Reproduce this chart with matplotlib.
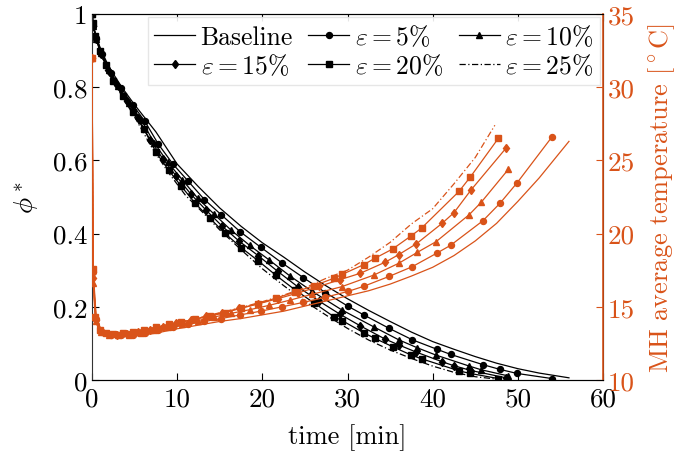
import matplotlib
matplotlib.use('Agg')
from matplotlib import pyplot as plt

plt.rcParams['font.family'] = 'serif'
plt.rcParams['font.serif'] = ['cmr10']
plt.rcParams['mathtext.fontset'] = 'cm'
plt.rcParams['axes.formatter.use_mathtext'] = True

orange = '#D95319'

# baseline (no marks)
t_base = [0, 0.1, 0.4, 1, 2, 3.5, 5, 7.5, 10, 12.5, 15, 17.5, 20, 22.5, 25, 27.5,
          30, 32.5, 35, 37.5, 40, 42.5, 45, 47.5, 50, 52.5, 56]
phi_base = [1.0, 0.978, 0.945, 0.905, 0.855, 0.80, 0.752, 0.678, 0.59, 0.528, 0.47, 0.42,
            0.375, 0.336, 0.295, 0.257, 0.222, 0.19, 0.16, 0.131, 0.105, 0.084, 0.064,
            0.046, 0.031, 0.019, 0.006]
T_base = [32, 17.0, 14.0, 13.2, 13.0, 12.95, 13.0, 13.2, 13.5, 13.75, 14.0, 14.2, 14.45,
          14.7, 15.05, 15.4, 15.75, 16.1, 16.55, 17.1, 17.7, 18.5, 19.5, 20.7, 22.2, 23.8, 26.3]

# eps = 5%
t_5 = [0, 0.15, 0.5, 1.2, 2.2, 3.4, 4.8, 6.2, 7.8, 9.5, 11.3, 13.2, 15.2, 17.4, 19.8, 22.3,
       24.8, 27.4, 30.1, 31.9, 34.9, 37.6, 40.5, 42.1, 45.9, 47.9, 49.9, 54.0]
phi_5 = [1.0, 0.968, 0.935, 0.89, 0.84, 0.798, 0.751, 0.707, 0.644, 0.59, 0.543, 0.493, 0.451,
         0.405, 0.363, 0.32, 0.28, 0.239, 0.201, 0.178, 0.141, 0.11, 0.084, 0.07, 0.042,
         0.029, 0.018, 0.004]
T_5 = [32, 17.4, 14.2, 13.3, 13.1, 13.05, 13.1, 13.2, 13.4, 13.6, 13.8, 14.0, 14.2, 14.45,
       14.7, 15.0, 15.3, 15.65, 16.06, 16.4, 17.08, 17.74, 18.67, 19.2, 20.88, 22.07, 23.46, 26.6]

# eps = 10%
t_10 = [0, 0.15, 0.5, 1.1, 2.0, 3.1, 4.4, 5.8, 7.3, 8.9, 10.6, 12.4, 14.3, 16.3, 18.5, 20.8,
        23.2, 25.8, 29.3, 33.1, 36.0, 38.2, 40.4, 44.3, 45.7, 48.9]
phi_10 = [1.0, 0.967, 0.932, 0.893, 0.847, 0.802, 0.756, 0.71, 0.648, 0.595, 0.547, 0.497,
          0.454, 0.41, 0.368, 0.328, 0.285, 0.243, 0.192, 0.145, 0.11, 0.088, 0.068, 0.038,
          0.028, 0.011]
T_10 = [32, 16.6, 14.0, 13.3, 13.1, 13.05, 13.1, 13.2, 13.4, 13.6, 13.85, 14.05, 14.3, 14.55,
        14.8, 15.1, 15.45, 15.85, 16.37, 17.17, 17.97, 18.72, 19.45, 21.3, 22.14, 24.4]

# eps = 15%
t_15 = [0, 0.15, 0.5, 1.1, 1.9, 2.9, 4.1, 5.4, 6.8, 8.3, 9.9, 11.6, 13.4, 15.3, 17.3, 19.5,
        21.8, 24.2, 26.7, 29.1, 31.5, 34.4, 36.0, 38.1, 41.1, 42.5, 44.5, 48.6]
phi_15 = [1.0, 0.966, 0.931, 0.89, 0.848, 0.806, 0.762, 0.717, 0.657, 0.605, 0.557, 0.508,
          0.464, 0.42, 0.379, 0.34, 0.297, 0.254, 0.215, 0.18, 0.148, 0.112, 0.096, 0.076,
          0.05, 0.039, 0.026, 0.006]
T_15 = [32, 17.0, 14.1, 13.35, 13.15, 13.1, 13.15, 13.25, 13.45, 13.65, 13.9, 14.1, 14.35,
        14.6, 14.9, 15.2, 15.55, 15.95, 16.4, 16.85, 17.29, 18.04, 18.56, 19.31, 20.7, 21.43,
        22.98, 25.83]

# eps = 20%
t_20 = [0, 0.1, 0.4, 0.9, 1.6, 2.5, 3.6, 4.8, 6.1, 7.5, 9.0, 10.5, 12.1, 13.8, 15.6, 17.5,
        19.5, 21.6, 23.8, 26.1, 28.4, 29.4, 31.9, 33.2, 35.3, 37.5, 38.7, 43.1, 44.4, 47.7]
phi_20 = [1.0, 0.975, 0.94, 0.90, 0.86, 0.817, 0.776, 0.731, 0.685, 0.623, 0.573, 0.529,
          0.483, 0.443, 0.401, 0.362, 0.326, 0.286, 0.247, 0.21, 0.173, 0.162, 0.129, 0.114,
          0.091, 0.068, 0.058, 0.025, 0.018, 0.004]
T_20 = [32, 17.6, 14.3, 13.4, 13.2, 13.15, 13.2, 13.3, 13.45, 13.6, 13.8, 13.95, 14.15,
        14.35, 14.6, 14.9, 15.2, 15.6, 16.0, 16.45, 16.95, 17.22, 17.88, 18.31, 18.95, 19.86,
        20.38, 22.89, 23.85, 26.5]

# eps = 25% (dash-dot, no marks)
t_25 = [0, 0.1, 0.4, 1, 2, 3.5, 5, 7, 9, 11, 13, 15, 17.5, 20, 22.5, 25, 27.5, 30, 32.5, 35,
        37.5, 40, 42.5, 45, 47.3]
phi_25 = [1.0, 0.975, 0.94, 0.893, 0.835, 0.776, 0.719, 0.636, 0.566, 0.504, 0.458, 0.41,
          0.356, 0.304, 0.258, 0.215, 0.177, 0.141, 0.109, 0.082, 0.059, 0.038, 0.021, 0.009,
          0.003]
T_25 = [32, 17.5, 14.4, 13.45, 13.25, 13.25, 13.35, 13.55, 13.8, 14.05, 14.3, 14.6, 14.95,
        15.35, 15.8, 16.3, 16.95, 17.5, 18.4, 19.4, 20.66, 21.7, 23.4, 25.2, 27.4]

series = [
    ('Baseline', t_base, phi_base, T_base, '-', None, 0),
    (r'$\varepsilon = 5\%$', t_5, phi_5, T_5, '-', 'o', 4.3),
    (r'$\varepsilon = 10\%$', t_10, phi_10, T_10, '-', '^', 4.3),
    (r'$\varepsilon = 15\%$', t_15, phi_15, T_15, '-', 'd', 4.5),
    (r'$\varepsilon = 20\%$', t_20, phi_20, T_20, '-', 's', 4.8),
    (r'$\varepsilon = 25\%$', t_25, phi_25, T_25, (0, (5, 2, 1, 2)), None, 0),
]

fig = plt.figure(figsize=(6.83, 4.6), dpi=100)
ax = fig.add_axes([0.1347, 0.1717, 0.7482, 0.7957])
ax2 = ax.twinx()

handles = []
for label, t, phi, T, ls, mk, ms in series:
    h, = ax.plot(t, phi, color='black', linestyle=ls, linewidth=0.9,
                 marker=mk, markersize=ms, label=label)
    handles.append(h)
    ax2.plot(t, T, color=orange, linestyle=ls, linewidth=0.9,
             marker=mk, markersize=ms)

ax.set_xlim(0, 60)
ax.set_ylim(0, 1)
ax2.set_ylim(10, 35)

ax.set_xticks([0, 10, 20, 30, 40, 50, 60])
ax.set_xticklabels(['0', '10', '20', '30', '40', '50', '60'])
ax.set_yticks([0, 0.2, 0.4, 0.6, 0.8, 1])
ax.set_yticklabels(['0', '0.2', '0.4', '0.6', '0.8', '1'])
ax2.set_yticks([10, 15, 20, 25, 30, 35])
ax2.set_yticklabels(['10', '15', '20', '25', '30', '35'])

ax.tick_params(axis='both', direction='in', length=5, labelsize=19.5, top=True, right=False)
ax2.tick_params(axis='y', direction='in', length=5, labelsize=19.5, colors=orange)
ax.tick_params(axis='x', pad=5)

for s in ['left', 'top', 'bottom']:
    ax.spines[s].set_color('#333333')
ax2.spines['right'].set_color(orange)
ax2.spines['right'].set_linewidth(1.2)
ax2.spines['left'].set_visible(False)

ax.set_xlabel('time [min]', fontsize=19, labelpad=9)
ax.set_ylabel(r'$\phi^*$', fontsize=19.5, labelpad=8)
ax2.set_ylabel(r'MH average temperature [$^\circ$C]', fontsize=19, color=orange,
               labelpad=8)

order = [0, 3, 1, 4, 2, 5]
leg = ax2.legend([handles[i] for i in order], [series[i][0] for i in order],
                 ncol=3, loc='upper right', bbox_to_anchor=(1.0, 1.0), fontsize=18.5,
                 handlelength=1.6, handletextpad=0.2, columnspacing=0.6,
                 borderaxespad=0.12, borderpad=0.25, labelspacing=0.12,
                 frameon=True, fancybox=False, edgecolor='#e4e4e4', framealpha=0.9)

plt.savefig('out.png', dpi=100)
